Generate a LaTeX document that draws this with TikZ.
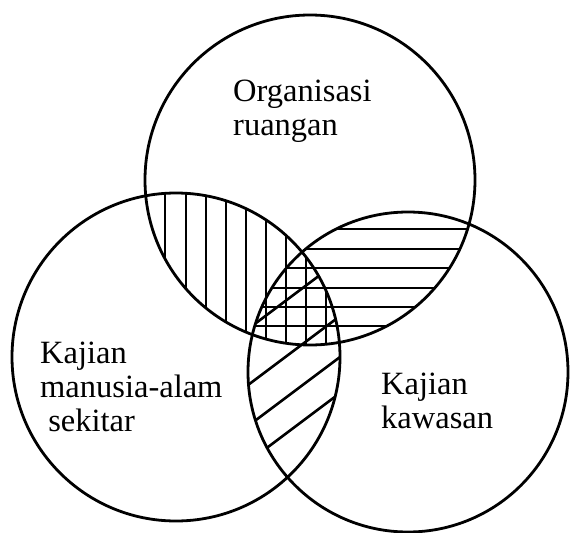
\documentclass[tikz,border=0pt]{standalone}
\usepackage{fontspec}
\setmainfont{Liberation Serif}
\tikzset{
  % the three sets
  setcircle/.style={draw, line width=2.8pt},
  % hatching of the overlaps
  hatch/.style={line width=2.6pt},
  setlabel/.style={
    align=left, anchor=north west, inner sep=0pt,
    font=\fontsize{32.5}{34}\selectfont
  },
}

\begin{document}
\begin{tikzpicture}[x=1pt, y=-1pt]
  \useasboundingbox (0,0) rectangle (571,533);

  %% ── Set centres ──
  \coordinate (orgC) at (310,180);
  \coordinate (manC) at (176,357);
  \coordinate (kawC) at (408,372);

  %% ── Organisasi / manusia overlap: vertical ──
  \begin{scope}
    \clip (orgC) circle (165);
    \clip (manC) circle (164);
    \foreach \x in {165,186,206,226,246,266,286,306,326}
      \draw[hatch] (\x,150) -- (\x,360);
  \end{scope}

  %% ── Organisasi / kawasan overlap: horizontal ──
  \begin{scope}
    \clip (orgC) circle (165);
    \clip (kawC) circle (160);
    \foreach \y in {229,249,268,288,307,326}
      \draw[hatch] (230,\y) -- (490,\y);
  \end{scope}

  %% ── Manusia / kawasan overlap: slanted ──
  \begin{scope}
    \clip (manC) circle (164);
    \clip (kawC) circle (160);
    \foreach \c in {515,571,612,648}
      \draw[hatch] (200,\c-150) -- (400,\c-300);
  \end{scope}

  %% ── Circles ──
  \draw[setcircle] (orgC) circle (165);
  \draw[setcircle] (manC) circle (164);
  \draw[setcircle] (kawC) circle (160);

  %% ── Labels ──
  \node[setlabel] (org) at (233,80) {Organisasi\\ruangan};
  \node[setlabel] (man) at (40,342) {Kajian\\manusia-alam\\\hspace*{0.25em}sekitar};
  \node[setlabel] (kaw) at (381,373) {Kajian\\kawasan};

\end{tikzpicture}
\end{document}
